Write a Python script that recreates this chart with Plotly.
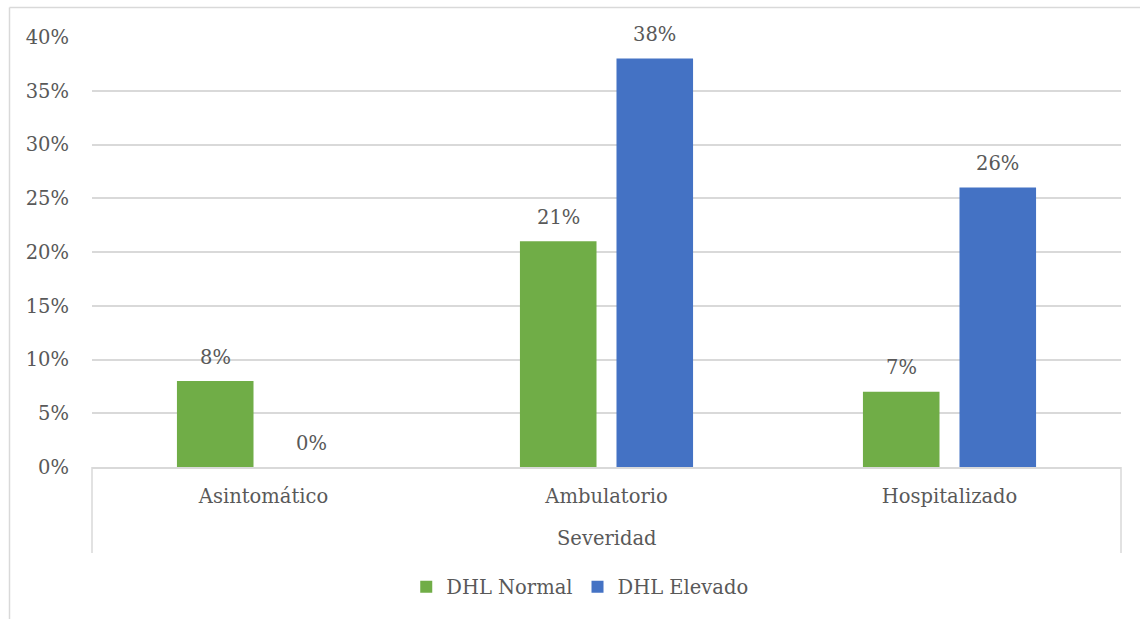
import plotly.graph_objects as go

categories = ["Asintomático", "Ambulatorio", "Hospitalizado"]
dhl_normal = [0.08, 0.21, 0.07]
dhl_elevado = [0.00, 0.38, 0.26]
series_names = ["DHL Normal", "DHL Elevado"]
y_ticks = [0, 0.05, 0.10, 0.15, 0.20, 0.25, 0.30, 0.35, 0.40]

FONT = "DejaVu Serif"
TXT = "#595959"
GRID = "#d9d9d9"
FS = 19.5

fig = go.Figure()
fig.add_trace(go.Bar(x=categories, y=dhl_normal, name=series_names[0],
                     marker=dict(color="#70AD47", line=dict(width=0))))
fig.add_trace(go.Bar(x=categories, y=dhl_elevado, name=series_names[1],
                     marker=dict(color="#4472C4", line=dict(width=0))))

annotations = []
for vals, xs in ((dhl_normal, -48), (dhl_elevado, 48)):
    for c, v in zip(categories, vals):
        annotations.append(dict(x=c, y=v, xref="x", yref="y", text=f"{round(v*100)}%",
                                showarrow=False, xshift=xs, yshift=24, yanchor="middle",
                                font=dict(family=FONT, size=FS, color=TXT)))
annotations.append(dict(x=0.5, y=(467 - 538) / 430, xref="paper", yref="paper", text="Severidad",
                        showarrow=False, yanchor="middle", xanchor="center",
                        font=dict(family=FONT, size=FS, color=TXT)))

W_PLOT, H_PLOT = 1029, 430
def px(xpix):
    return (xpix - 92) / W_PLOT
def py(ypix):
    return (467 - ypix) / H_PLOT

shapes = [
    dict(type="line", xref="paper", yref="paper", x0=px(9.5), x1=px(9.5), y0=py(630), y1=py(7.5),
         line=dict(color=GRID, width=1.5)),
    dict(type="line", xref="paper", yref="paper", x0=px(9.5), x1=px(1150), y0=py(7.5), y1=py(7.5),
         line=dict(color=GRID, width=1.5)),
    dict(type="line", xref="paper", yref="paper", x0=0, x1=0, y0=py(467), y1=py(553),
         line=dict(color=GRID, width=1.5)),
    dict(type="line", xref="paper", yref="paper", x0=1, x1=1, y0=py(467), y1=py(553),
         line=dict(color=GRID, width=1.5)),
]

fig.update_layout(
    width=1140, height=619,
    margin=dict(l=92, r=19, t=37, b=152),
    paper_bgcolor="white", plot_bgcolor="white",
    barmode="group", bargap=0.437, bargroupgap=0.207,
    font=dict(family=FONT, size=FS, color=TXT),
    showlegend=True,
    legend=dict(orientation="h", x=0.474, xanchor="center", y=py(587), yanchor="middle",
                font=dict(family=FONT, size=FS, color=TXT), itemwidth=30,
                traceorder="normal"),
    annotations=annotations,
    shapes=shapes,
)
fig.update_xaxes(showgrid=False, showline=True, linecolor=GRID, linewidth=1.5,
                 ticks="", tickfont=dict(family=FONT, size=FS, color=TXT),
                 ticklabelstandoff=11)
fig.update_yaxes(range=[0, 0.4], tickvals=y_ticks, tickformat=".0%",
                 showgrid=True, gridcolor=GRID, gridwidth=1.5, zeroline=False,
                 showline=False, ticks="", ticklabelstandoff=22,
                 tickfont=dict(family=FONT, size=FS, color=TXT))

fig.write_html("out.html")
